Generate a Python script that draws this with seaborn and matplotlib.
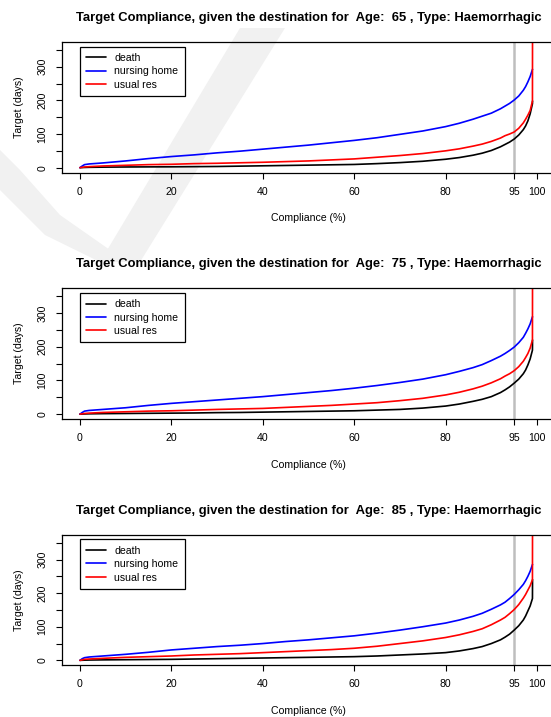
import numpy as np
import pandas as pd
import matplotlib
matplotlib.use("Agg")
import matplotlib.pyplot as plt
import seaborn as sns
from matplotlib.patches import Polygon

# ---------------- data ----------------
compliance = [0, 0.5, 1, 2, 5, 10, 15, 20, 25, 30, 35, 40, 45, 50, 55, 60, 65, 70,
              75, 80, 83, 86, 88, 90, 92, 93, 94, 95, 96, 97, 97.5, 98, 98.5, 99, 99.02]
ages = [65, 75, 85]
series_names = ["death", "nursing home", "usual res"]
series_colors = ["black", "blue", "red"]

death_65 = [0, 0.3, 0.6, 1, 1.5, 2, 2.3, 2.5, 3, 3.5, 4.5, 5.5, 6.5, 7.5, 8.5, 9.5, 12, 15,
            19, 25, 30, 37, 43, 51, 62, 69, 76, 85, 97, 113, 124, 139, 160, 190, 198]
nursing_65 = [0, 5, 9, 11, 14, 20, 27, 33, 38, 44, 49, 55, 61, 67, 74, 81, 89, 99,
              109, 122, 132, 144, 153, 162, 175, 183, 191, 201, 213, 230, 241, 255, 271, 292, 292]
usual_65 = [0, 1, 2, 3, 5, 7, 9, 10, 12, 13, 14.5, 16, 18, 20, 23, 26, 31, 36,
            42, 50, 56, 64, 70, 78, 88, 95, 100, 106, 117, 133, 144, 156, 170, 198, 420]

death_75 = [0, 0.3, 0.6, 1, 1.5, 2, 2.5, 3, 3.5, 4.5, 5, 6, 7, 8, 9, 10, 12, 14,
            18, 24, 30, 38, 44, 52, 64, 72, 81, 92, 104, 120, 131, 146, 164, 190, 220]
nursing_75 = [0, 5, 9, 11, 14, 19, 26, 32, 37, 42, 47, 52, 58, 64, 70, 77, 85, 94,
              104, 117, 127, 138, 147, 159, 172, 180, 189, 199, 212, 228, 240, 253, 268, 289, 289]
usual_75 = [0, 1, 2, 3, 5, 7, 9, 10, 12, 14, 15.5, 17, 20, 23, 26, 30, 34, 40,
            47, 57, 65, 75, 83, 93, 105, 113, 120, 129, 141, 157, 168, 180, 196, 220, 420]

death_85 = [0, 0.3, 0.6, 1, 1.5, 2, 2.5, 3, 4, 5, 6, 7, 8, 9, 10, 11, 13, 16,
            19, 23, 28, 35, 41, 50, 61, 69, 78, 90, 103, 120, 132, 147, 162, 184, 240]
nursing_85 = [0, 5, 8, 10, 13, 18, 24, 31, 36, 41, 45, 50, 56, 61, 67, 73, 81, 90,
              100, 111, 120, 131, 140, 152, 165, 173, 184, 196, 210, 226, 237, 250, 265, 285, 285]
usual_85 = [0, 1.5, 3, 4, 6, 9, 11, 13, 16, 18, 20, 23, 26, 29, 32, 36, 42, 50,
            58, 68, 76, 86, 94, 106, 120, 128, 139, 151, 166, 185, 196, 209, 222, 240, 420]

panel_series = {
    65: [death_65, nursing_65, usual_65],
    75: [death_75, nursing_75, usual_75],
    85: [death_85, nursing_85, usual_85],
}
x_ticks = [0, 20, 40, 60, 80, 95, 100]
y_ticks = [0, 50, 100, 150, 200, 250, 300, 350]
y_ticklabels = ["0", "", "100", "", "200", "", "300", ""]
ref_line = 95

# ---------------- style ----------------
sns.set_style("ticks")
plt.rcParams["font.family"] = ["Liberation Sans", "DejaVu Sans"]
plt.rcParams["text.color"] = "black"
plt.rcParams["axes.labelcolor"] = "black"

W, H = 551, 717
fig = plt.figure(figsize=(W / 100, H / 100), dpi=100)

# faint publisher logo shape behind the plots (pixel coords -> figure fraction)
wm_grey = "#f1f1f1"
def px(x, y):
    return (x / W, 1 - y / H)
right_arm = Polygon([px(240, 28), px(285, 28), px(140, 262), px(100, 262)],
                    closed=True, transform=fig.transFigure,
                    facecolor=wm_grey, edgecolor="none", zorder=-5)
left_arm = Polygon([px(0, 150), px(20, 170), px(60, 215), px(110, 250), px(140, 262),
                    px(100, 262), px(45, 235), px(0, 190)],
                   closed=True, transform=fig.transFigure,
                   facecolor=wm_grey, edgecolor="none", zorder=-5)
fig.add_artist(right_arm)
fig.add_artist(left_arm)

# panel geometry in pixels
left_px, right_px = 61.7, 555.3
panels = [(41.7, 172.5), (288.0, 419.0), (534.5, 665.2)]

for age, (top_px, bot_px) in zip(ages, panels):
    ax = fig.add_axes([left_px / W, 1 - bot_px / H, (right_px - left_px) / W,
                       (bot_px - top_px) / H])
    ax.set_facecolor("none")
    ax.axvline(ref_line, color="#bebebe", lw=1.8, zorder=1)
    rows = []
    for name, vals in zip(series_names, panel_series[age]):
        for xv, yv in zip(compliance, vals):
            rows.append({"Compliance": xv, "Target": yv, "dest": name})
    df = pd.DataFrame(rows)
    sns.lineplot(data=df, x="Compliance", y="Target", hue="dest",
                 hue_order=series_names, palette=series_colors, estimator=None,
                 sort=False, lw=1.2, ax=ax, legend=False, zorder=2)
    ax.set_xlim(-4, 104)
    ax.set_ylim(-14.4, 374.4)
    ax.set_xticks(x_ticks)
    ax.set_xticklabels([str(t) for t in x_ticks])
    ax.set_yticks(y_ticks)
    ax.set_yticklabels(y_ticklabels, rotation=90, va="center")
    ax.tick_params(direction="out", length=4.3, width=0.8, color="black",
                   labelsize=7.6, pad=5.8, labelcolor="black")
    for sp in ax.spines.values():
        sp.set_visible(True)
        sp.set_color("black")
        sp.set_linewidth(0.9)
    ax.set_xlabel("Compliance (%)", fontsize=7.6, labelpad=12, color="black")
    ax.set_ylabel("Target (days)", fontsize=7.6, labelpad=10, color="black")
    ax.set_title("Target Compliance, given the destination for  Age:  %d , Type: Haemorrhagic" % age,
                 fontsize=9.4, fontweight="bold", pad=15, color="black")
    handles = [plt.Line2D([], [], color=c, lw=1.2) for c in series_colors]
    leg = ax.legend(handles, series_names, loc="upper left",
                    bbox_to_anchor=(0.037, 0.962), fontsize=7.6, frameon=True,
                    fancybox=False, edgecolor="black", framealpha=1,
                    handlelength=1.85, handletextpad=0.8, labelspacing=0.32,
                    borderpad=0.6, borderaxespad=0)
    for t in leg.get_texts():
        t.set_color("black")
    leg.get_frame().set_linewidth(0.9)
    leg.get_frame().set_facecolor("none")

fig.savefig("out.png", dpi=100)
